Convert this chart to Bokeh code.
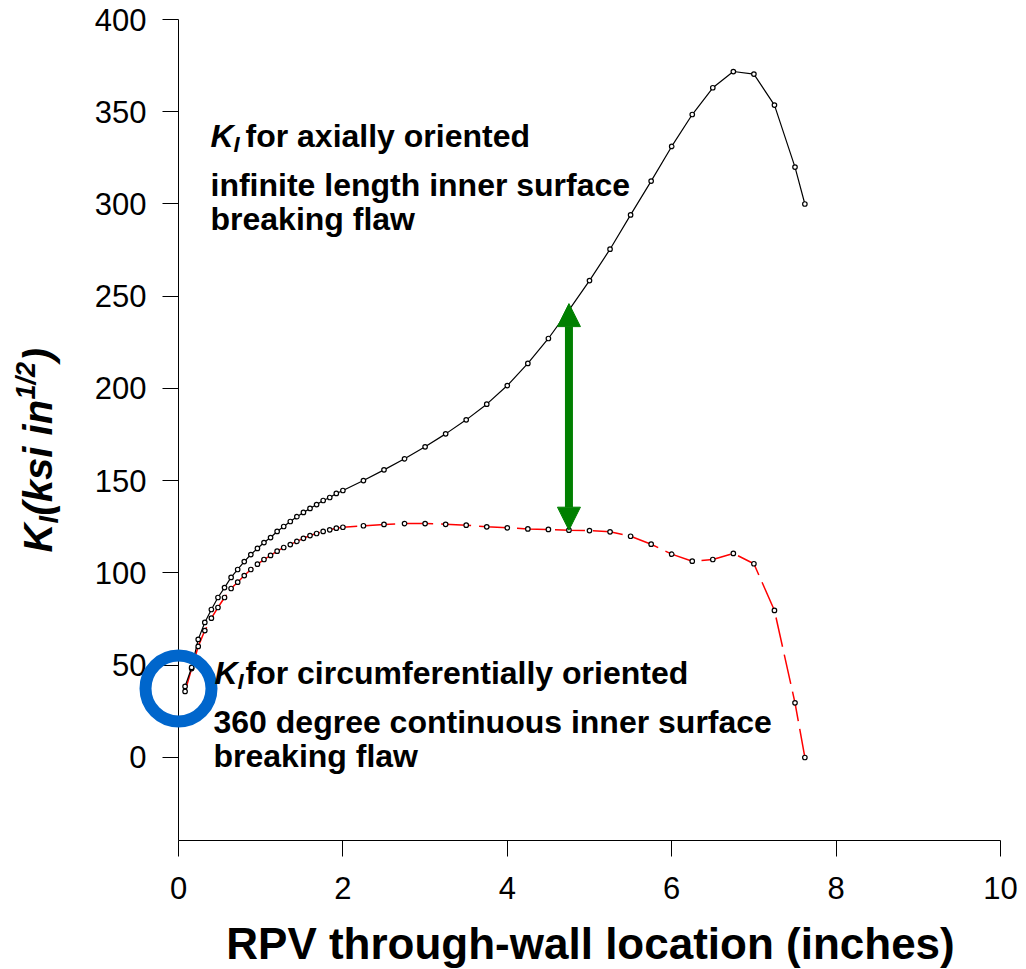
import math

from bokeh.plotting import figure
from bokeh.models import Range1d, FixedTicker, Label, Arrow, NormalHead
from bokeh.embed import file_html
from bokeh.resources import INLINE

# Through-wall positions (inches) where K_I was evaluated
depth = [0.08, 0.16, 0.24, 0.32, 0.40, 0.48, 0.56, 0.64, 0.72, 0.80,
         0.88, 0.96, 1.04, 1.12, 1.20, 1.28, 1.36, 1.44, 1.52, 1.60,
         1.68, 1.76, 1.84, 1.92, 2.00, 2.25, 2.50, 2.75, 3.00, 3.25,
         3.50, 3.75, 4.00, 4.25, 4.50, 4.75, 5.00, 5.25, 5.50, 5.75,
         6.00, 6.25, 6.50, 6.75, 7.00, 7.25, 7.50, 7.62]

# K_I (ksi in^1/2), axially oriented infinite-length flaw
ki_axial = [38.5, 48.8, 64.0, 73.2, 80.2, 86.7, 92.1, 97.6, 101.9, 106.2,
            110.0, 113.3, 116.5, 119.2, 122.5, 125.2, 127.9, 130.5, 132.8, 135.0,
            137.1, 139.3, 140.9, 143.1, 144.7, 150.1, 155.9, 161.9, 168.4, 175.4,
            183.0, 191.5, 201.6, 213.6, 227.1, 242.5, 258.5, 275.5, 294.1, 312.4,
            331.2, 348.5, 363.0, 371.8, 370.4, 353.6, 320.0, 300.0]

# K_I (ksi in^1/2), circumferentially oriented 360 degree flaw
ki_circ = [35.8, 48.2, 60.2, 68.8, 75.5, 81.3, 86.7, 91.6, 95.0, 98.6,
           101.9, 104.8, 107.3, 109.5, 111.8, 113.8, 115.4, 117.1, 118.8, 120.3,
           121.4, 122.5, 123.4, 124.3, 124.8, 125.6, 126.3, 126.8, 126.8, 126.4,
           125.9, 125.0, 124.5, 123.9, 123.6, 123.2, 123.0, 122.3, 119.9, 115.6,
           110.2, 106.4, 107.3, 110.6, 105.0, 79.7, 29.6, 0.0]

x_ticks = [0, 2, 4, 6, 8, 10]
y_ticks = [0, 50, 100, 150, 200, 250, 300, 350, 400]

x_title = "RPV through-wall location (inches)"

# Depth where the two flaw orientations are compared
compare_at = 4.75
compare_top = 246.0

X_MIN, X_MAX = 0, 10
Y_MIN, Y_MAX = -45, 400

# Layout (pixels): the plotting area spans the whole canvas and the axes are
# pinned at the data origin, so the axis box is FL..FR by FT..FB
W, H = 1026, 969
FL, FR, FT, FB = 178, 1000, 19, 840

FONT = "'Liberation Sans', Arial, sans-serif"
GREEN = "#008000"
BLUE = "#0066cc"


def dx(px):
    return X_MIN + (px - FL) / (FR - FL) * (X_MAX - X_MIN)


def dy(py):
    return Y_MAX - (py - FT) / (FB - FT) * (Y_MAX - Y_MIN)


p = figure(width=W, height=H, output_backend="svg", toolbar_location=None,
           x_range=Range1d(dx(0), dx(W)), y_range=Range1d(dy(H), dy(0)),
           min_border=0)
p.outline_line_color = None
p.grid.visible = False
p.background_fill_color = "white"
p.border_fill_color = "white"

xa, ya = p.xaxis[0], p.yaxis[0]
xa.fixed_location = Y_MIN
ya.fixed_location = X_MIN
xa.bounds = (X_MIN, X_MAX)
ya.bounds = (Y_MIN, Y_MAX)

for ax in (xa, ya):
    ax.axis_line_color = "black"
    ax.axis_line_width = 1
    ax.major_tick_line_color = "black"
    ax.major_tick_line_width = 1
    ax.major_tick_out = 16
    ax.major_tick_in = 0
    ax.minor_tick_line_color = None
    ax.major_label_text_font = FONT
    ax.major_label_text_font_size = "31px"
    ax.major_label_text_color = "black"

xa.ticker = FixedTicker(ticks=x_ticks)
ya.ticker = FixedTicker(ticks=y_ticks)
xa.major_label_standoff = 20
ya.major_label_standoff = 16

# Curves
p.line(depth, ki_circ, line_color="red", line_width=1.5, line_dash="30 8")
p.line(depth, ki_axial, line_color="black", line_width=1.2)
p.scatter(depth, ki_circ, marker="circle", size=4.5, line_color="black",
          line_width=1.2, fill_color="white")
p.scatter(depth, ki_axial, marker="circle", size=4.5, line_color="black",
          line_width=1.2, fill_color="white")

# Double-headed arrow between the two curves
head_kw = dict(size=23, fill_color=GREEN, line_color=GREEN, line_width=1)
p.add_layout(Arrow(start=NormalHead(**head_kw), end=NormalHead(**head_kw),
                   x_start=compare_at, y_start=ki_circ[depth.index(compare_at)],
                   x_end=compare_at, y_end=compare_top,
                   line_color=GREEN, line_width=8))

# Ring marking the inner surface
p.scatter([0], [37.4], marker="circle", size=66, line_color=BLUE,
          line_width=12, fill_alpha=0, level="overlay")


# Text is placed by its visual centre line (pixels from the top-left corner)
def label(px, py, text, size, style="bold", angle=0.0, align="left"):
    p.add_layout(Label(x=dx(px), y=dy(py), text=text, text_font=FONT,
                       text_font_size=f"{size}px", text_font_style=style,
                       text_color="black", text_align=align,
                       text_baseline="middle", angle=angle,
                       level="overlay"))


# Annotation: axial flaw
label(210, 135, "K", 32, "bold italic")
label(233, 144, "I", 22, "bold italic")
label(245, 135, "for axially oriented", 32)
label(210, 184, "infinite length inner surface", 32)
label(210, 218, "breaking flaw", 32)

# Annotation: circumferential flaw
label(214, 672, "K", 32, "bold italic")
label(237, 681, "I", 22, "bold italic")
label(245, 672, "for circumferentially oriented", 32)
label(213, 721, "360 degree continuous inner surface", 32)
label(213, 755, "breaking flaw", 32)

# X axis title
label(590, 943, x_title, 44, align="center")

# Y axis title, K_I(ksi in^1/2), written bottom to top
up = math.pi / 2
label(37, 552, "K", 40, "bold italic", angle=up)
label(48, 523, "I", 27, "bold italic", angle=up)
label(37, 515, "(ksi in", 40, "bold italic", angle=up)
label(25, 399, "1/2", 27, "bold italic", angle=up)
label(37, 361, ")", 40, "bold italic", angle=up)

open("out.html", "w").write(file_html(p, INLINE))
